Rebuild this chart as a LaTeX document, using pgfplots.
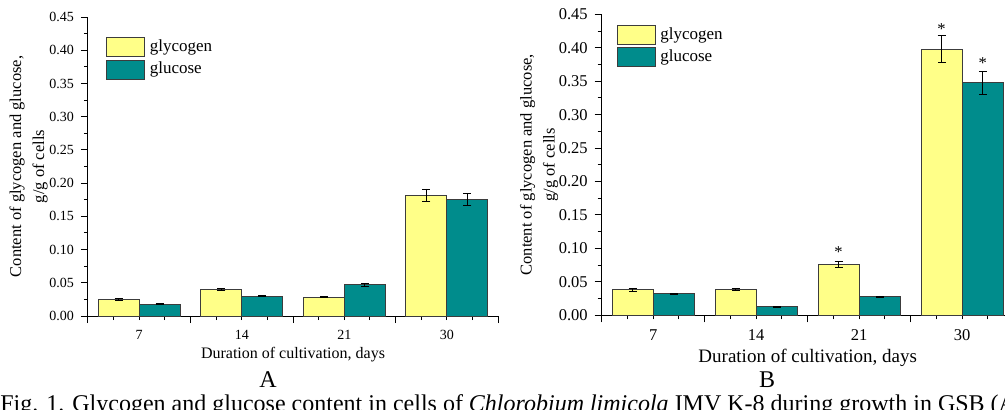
\documentclass[border=0pt]{standalone}
\usepackage{fontspec}
\setmainfont{Liberation Serif}
\usepackage{pgfplots}
\pgfplotsset{compat=1.18}

\definecolor{glyc}{RGB}{255,255,136}
\definecolor{gluc}{RGB}{0,140,140}
\definecolor{edge}{RGB}{60,60,60}

\pgfplotsset{
  panel/.style={
    scale only axis,
    axis lines*=left,
    axis line style={line width=0.5pt},
    xmin=0.5, xmax=4.5, ymin=0, ymax=0.45,
    tick align=outside,
    major tick length=3.5pt, minor tick length=2pt,
    tick style={black, line width=0.5pt},
    xtick={0.5,1.5,2.5,3.5,4.5}, xticklabels={},
    minor xtick={0.75,1,1.25,1.75,2,2.25,2.75,3,3.25,3.75,4,4.25},
    extra x ticks={1,2,3,4}, extra x tick labels={7,14,21,30},
    extra x tick style={tick style={draw=none}},
    ytick={0,0.05,...,0.45}, minor y tick num=1,
    yticklabel style={/pgf/number format/.cd, fixed, fixed zerofill, precision=2},
    /pgf/number format/assume math mode=true,
    ylabel={Content of glycogen and glucose,\\g/g of cells},
    xlabel={Duration of cultivation, days},
    legend style={draw=none, fill=none, inner sep=0pt, row sep=1.2pt,
      cells={anchor=west}, nodes={inner ysep=0.6pt, inner xsep=2.2pt}},
    legend image code/.code={\draw[##1, draw=edge, line width=0.5pt] (0pt,-4.75pt) rectangle (19pt,4.75pt);},
    legend cell align=left,
  },
  glycbar/.style={ybar, bar width=0.4, bar shift=0pt, fill=glyc, draw=edge, line width=0.5pt,
    error bars/.cd, y dir=both, y explicit,
    error bar style={black, line width=0.4pt},
    error mark options={rotate=90, mark size=2pt, black, line width=0.4pt}},
  glucbar/.style={ybar, bar width=0.4, bar shift=0pt, fill=gluc, draw=edge, line width=0.5pt,
    error bars/.cd, y dir=both, y explicit,
    error bar style={black, line width=0.4pt},
    error mark options={rotate=90, mark size=2pt, black, line width=0.4pt}},
}

\begin{document}
\begin{tikzpicture}
\path[use as bounding box, clip] (0pt,0pt) rectangle (502.5pt,204.5pt);

% panel A
\begin{axis}[panel,
  at={(44pt,46.5pt)}, anchor=south west,
  width=205pt, height=149.5pt,
  tick label style={font=\fontsize{7}{8}\selectfont},
  every axis y label/.style={at={(axis description cs:-0.145,0.5)}, rotate=90, anchor=center,
    align=center, font=\fontsize{8.25}{11.5}\selectfont},
  every axis x label/.style={at={(axis description cs:0.5,-0.13)}, anchor=center,
    font=\fontsize{8}{9}\selectfont},
  legend style={at={(axis description cs:0.044,0.934)}, anchor=north west,
    font=\fontsize{8.5}{10}\selectfont},
]
% day 7, 14, 21, 30 -> x = 1..4, glycogen left (-0.2), glucose right (+0.2)
\addplot[glycbar] coordinates {
  (0.8,0.025) +- (0,0.0012) (1.8,0.040) +- (0,0.0015)
  (2.8,0.0285) +- (0,0.0008) (3.8,0.182) +- (0,0.0093)};
\addlegendentry{glycogen}
\addplot[glucbar] coordinates {
  (1.2,0.018) +- (0,0.0008) (2.2,0.030) +- (0,0.0012)
  (3.2,0.047) +- (0,0.0018) (4.2,0.175) +- (0,0.0088)};
\addlegendentry{glucose}
\end{axis}

% panel B
\begin{axis}[panel,
  at={(300.85pt,46.85pt)}, anchor=south west,
  width=206pt, height=150.5pt,
  tick label style={font=\fontsize{8.25}{9}\selectfont},
  every axis y label/.style={at={(axis description cs:-0.152,0.5)}, rotate=90, anchor=center,
    align=center, font=\fontsize{8.25}{11.5}\selectfont},
  every axis x label/.style={at={(axis description cs:0.5,-0.14)}, anchor=center,
    font=\fontsize{9.5}{11}\selectfont},
  legend style={at={(axis description cs:0.036,0.967)}, anchor=north west,
    font=\fontsize{8.5}{10}\selectfont},
]
\addplot[glycbar] coordinates {
  (0.8,0.038) +- (0,0.002) (1.8,0.039) +- (0,0.0015)
  (2.8,0.076) +- (0,0.004) (3.8,0.398) +- (0,0.020)};
\addlegendentry{glycogen}
\addplot[glucbar] coordinates {
  (1.2,0.032) +- (0,0.0012) (2.2,0.013) +- (0,0.0005)
  (3.2,0.028) +- (0,0.001) (4.2,0.348) +- (0,0.017)};
\addlegendentry{glucose}
% significance marks
\addplot[draw=none, mark=none, forget plot, nodes near coords={*},
  nodes near coords style={anchor=north, inner sep=0pt, font=\fontsize{8.25}{9}\selectfont}]
  coordinates {(2.8,0.1036) (3.8,0.4365) (4.2,0.386)};
\end{axis}

\node[anchor=base, inner sep=0pt, font=\fontsize{12}{14}\selectfont] at (134pt,11pt) {A};
\node[anchor=base, inner sep=0pt, font=\fontsize{12}{14}\selectfont] at (383.5pt,11pt) {B};
\node[anchor=base west, inner sep=0pt, font=\fontsize{12}{14}\selectfont] at (0pt,-1pt)
  {Fig. 1. Glycogen and glucose content in cells of \textit{Chlorobium limicola} IMV K-8 during growth in GSB (A};
\end{tikzpicture}
\end{document}
